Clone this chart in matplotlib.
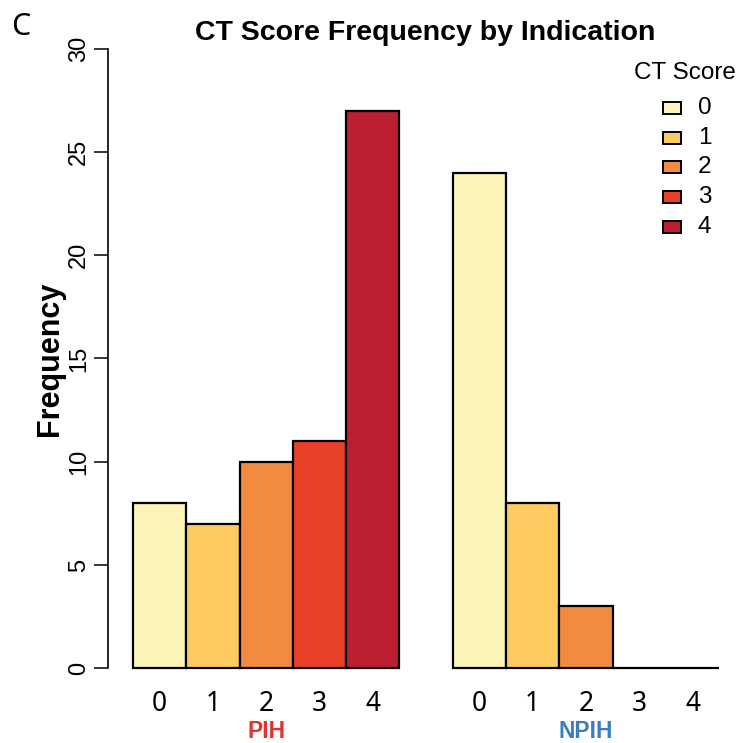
import matplotlib
matplotlib.use("Agg")
import matplotlib.pyplot as plt
from matplotlib.patches import Rectangle
from matplotlib.transforms import blended_transform_factory

# data
groups = ["PIH", "NPIH"]
scores = ["0", "1", "2", "3", "4"]
pih_counts = [8, 7, 10, 11, 27]
npih_counts = [24, 8, 3, 0, 0]
score_colors = ["#FBF6B8", "#FDCB60", "#F28B3E", "#E84127", "#BC2030"]
group_colors = ["#E2342F", "#3B7DC0"]
yticks = [0, 5, 10, 15, 20, 25, 30]

plt.rcParams['font.family'] = ['Liberation Sans', 'DejaVu Sans']

fig = plt.figure(figsize=(7.40, 7.43), dpi=100)
ax = fig.add_axes([108 / 740, 50 / 743, 632 / 740, 669 / 743])
under = blended_transform_factory(ax.transData, fig.transFigure)

# R-style beside barplot: one empty bar width between groups
all_counts = [pih_counts, npih_counts]
for g, counts in enumerate(all_counts):
    lefts = [1 + g * 6 + i for i in range(len(counts))]
    ax.bar(lefts, counts, width=1, align='edge', color=score_colors,
           edgecolor='black', linewidth=1.6, zorder=2)
    for i, s in enumerate(scores):
        ax.text(lefts[i] + 0.5, 1 - 704 / 743, s, transform=under,
                ha='center', va='center', fontsize=19, family='Noto Sans')
    ax.text(lefts[2] + 0.5, 1 - 731 / 743, groups[g], transform=under,
            ha='center', va='center', fontsize=16.5, fontweight='bold',
            color=group_colors[g])

ax.set_xlim(0.53, 12.39)
ax.set_ylim(-1.2, 31.2)
for side in ['top', 'right', 'bottom']:
    ax.spines[side].set_visible(False)
ax.spines['left'].set_bounds(0, 30)
ax.spines['left'].set_linewidth(1.2)
ax.set_xticks([])
ax.set_yticks(yticks)
ax.set_yticklabels([str(t) for t in yticks], rotation=90, va='center')
ax.tick_params(axis='y', length=10, width=1.1, pad=3, labelsize=17)
ax.set_ylabel("Frequency", fontsize=22, fontweight='bold', labelpad=2)

fig.text(425 / 740, 1 - 33 / 743, "CT Score Frequency by Indication",
         ha='center', va='center', fontsize=20.5, fontweight='bold')
fig.text(11 / 740, 1 - 27 / 743, "C", ha='left', va='center', fontsize=22,
         family='Noto Sans')

# legend drawn by hand, R style
fig.text(685 / 740, 1 - 73 / 743, "CT Score", ha='center', va='center', fontsize=17.5)
for i, s in enumerate(scores):
    yc = 108 + i * 29.7
    fig.add_artist(Rectangle((663 / 740, 1 - (yc + 6) / 743), 18 / 740, 12 / 743,
                             transform=fig.transFigure, facecolor=score_colors[i],
                             edgecolor='black', linewidth=1.4))
    fig.text(698 / 740, 1 - yc / 743, s, ha='left', va='center', fontsize=17.5)

fig.savefig("out.png", dpi=100)
